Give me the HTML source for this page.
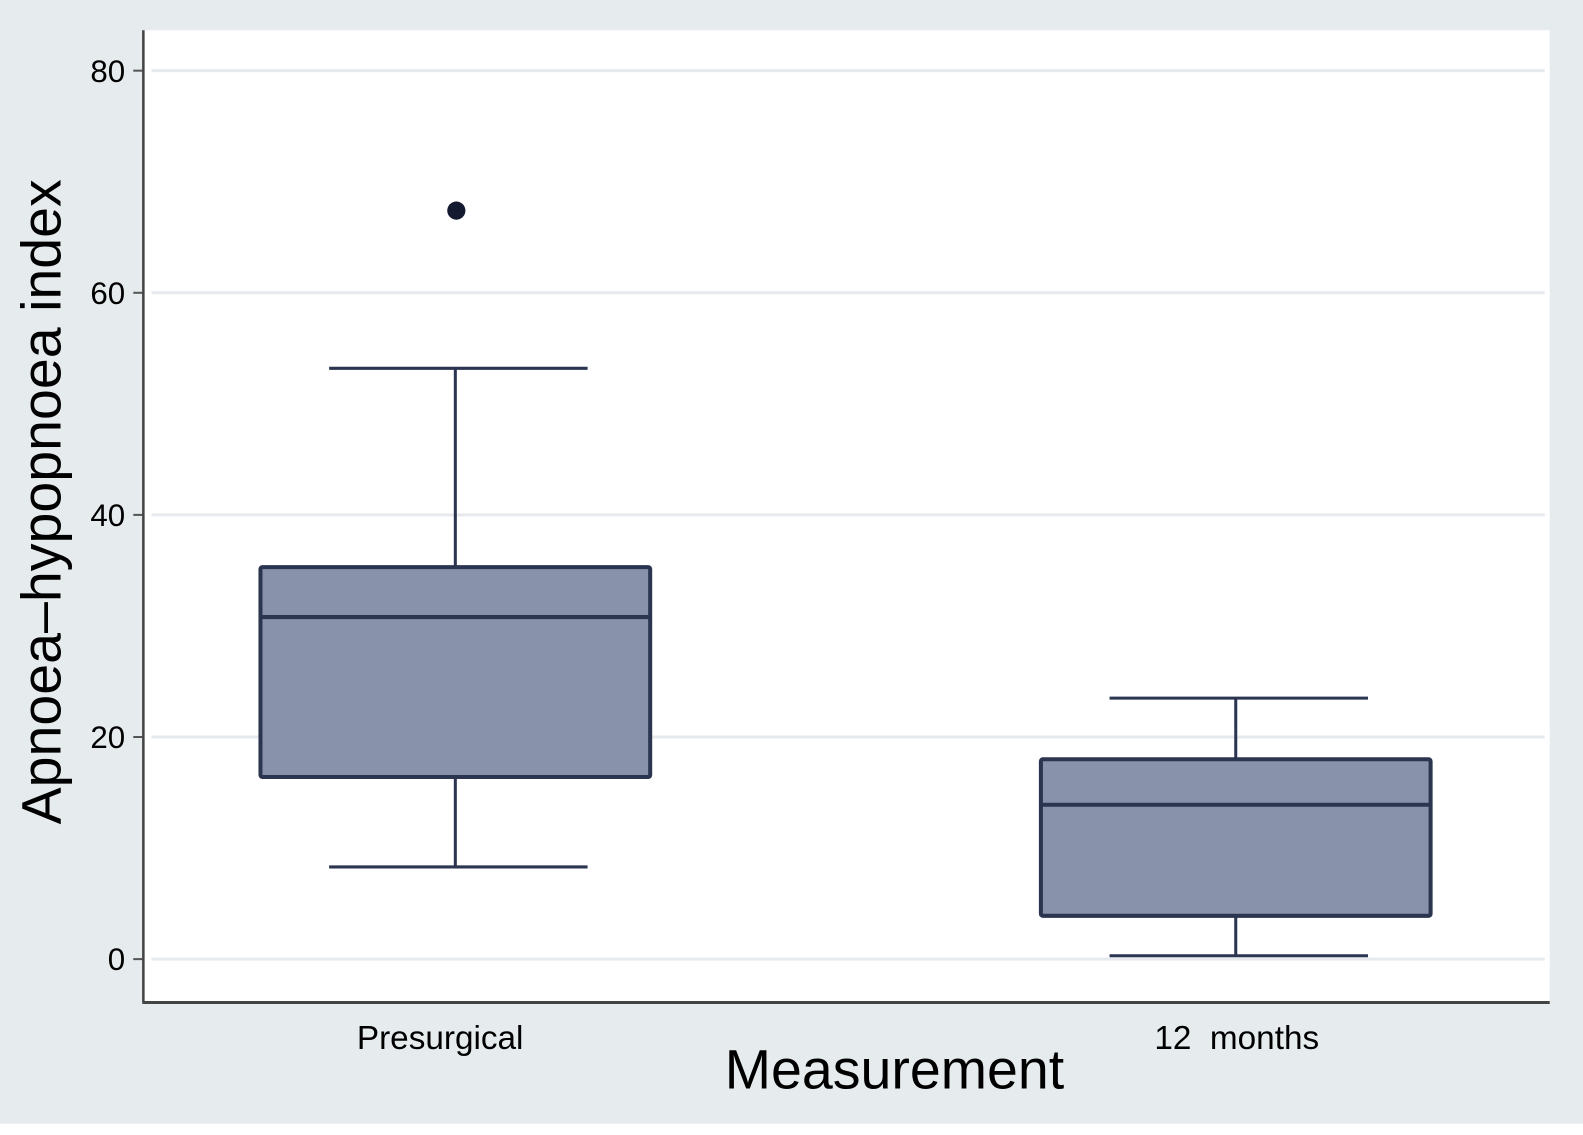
<!DOCTYPE html>
<html><head><meta charset="utf-8"><style>
html,body{margin:0;padding:0;background:#e6ebee;}
svg{display:block;font-family:"Liberation Sans",sans-serif;}
</style></head><body>
<svg id="chart" width="1583" height="1135">
<g transform="scale(1.0096)">
<rect x="0" y="1113" width="1583" height="30" fill="#ffffff"/>
<rect x="142" y="30" width="1393" height="963" fill="#ffffff"/>
<g id="grid"></g><g id="marks"></g><g id="axes"></g>
<text x="886" y="1078" font-size="55" text-anchor="middle" fill="#000">Measurement</text>
<text transform="translate(60,497) rotate(-90)" font-size="55" text-anchor="middle" fill="#000">Apnoea–hypopnoea index</text>
</g>
</svg>
<script>
const categories=["Presurgical","12  months"];
const whiskerLow=[8.3,0.3];
const q1=[16.4,3.9];
const median=[30.8,13.9];
const q3=[35.3,18.0];
const whiskerHigh=[53.2,23.5];
const outlierCat=[0];
const outlierVal=[67.4];
const yTicks=[0,20,40,60,80];

const NS="http://www.w3.org/2000/svg";
function y(v){return 950-11*v;}
function xc(i){return 451+i*773;}
function mk(t,a,p){const e=document.createElementNS(NS,t);for(const k in a)e.setAttribute(k,a[k]);p.appendChild(e);return e;}
const grid=document.getElementById('grid'),marks=document.getElementById('marks'),axes=document.getElementById('axes');
yTicks.forEach(t=>{
  const g=mk('line',{x1:150,x2:1530,y1:y(t),y2:y(t),stroke:'#e6eaee','stroke-width':3},grid);
  
  
  const tk=mk('line',{x1:132,x2:142,y1:y(t),y2:y(t),stroke:'#555','stroke-width':2},axes);
  
  
  const tl=mk('text',{x:124,y:y(t)+11,'font-size':31,'text-anchor':'end',fill:'#000'},axes);
  tl.textContent=t;
  
  
});
const ya=mk('line',{x1:142,x2:142,y1:30,y2:993,stroke:'#444','stroke-width':2.5},axes);


const xa=mk('line',{x1:141,x2:1535,y1:993,y2:993,stroke:'#444','stroke-width':3},axes);


const S='#2b3550';
categories.forEach((c,i)=>{
  const cx=xc(i),hw=193,cw=125;
  const g=mk('g',{},marks);
  
  
  mk('line',{x1:cx,x2:cx,y1:y(whiskerHigh[i]),y2:y(q3[i]),stroke:S,'stroke-width':3},g);
  mk('line',{x1:cx,x2:cx,y1:y(q1[i]),y2:y(whiskerLow[i]),stroke:S,'stroke-width':3},g);
  mk('line',{x1:cx-cw,x2:cx+cw+6,y1:y(whiskerHigh[i]),y2:y(whiskerHigh[i]),stroke:S,'stroke-width':3},g);
  mk('line',{x1:cx-cw,x2:cx+cw+6,y1:y(whiskerLow[i]),y2:y(whiskerLow[i]),stroke:S,'stroke-width':3},g);
  mk('rect',{x:cx-hw,y:y(q3[i]),width:2*hw,height:y(q1[i])-y(q3[i]),fill:'#8893ab',stroke:S,'stroke-width':4,rx:2},g);
  mk('line',{x1:cx-hw,x2:cx+hw,y1:y(median[i]),y2:y(median[i]),stroke:S,'stroke-width':4},g);
  const l=mk('text',{x:cx-15+i*16,y:1039,'font-size':33,'text-anchor':'middle',fill:'#000',style:'white-space:pre'},axes);
  l.textContent=c;
  
  
});
outlierCat.forEach((c,j)=>{
  const o=mk('circle',{cx:xc(c)+1,cy:y(outlierVal[j]),r:9,fill:'#141a30'},marks);
  
  
});
</script>
</body></html>
